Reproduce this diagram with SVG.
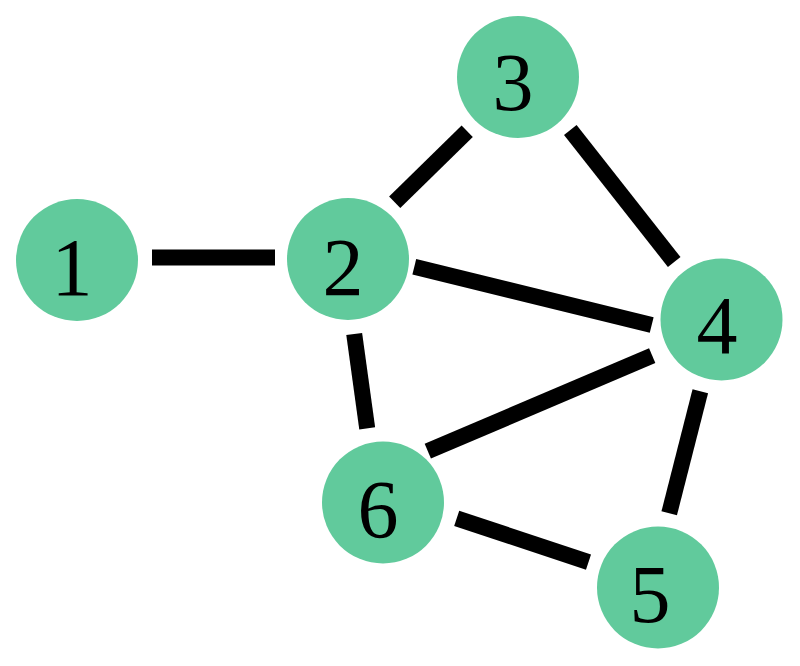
<svg xmlns="http://www.w3.org/2000/svg" width="800" height="666" viewBox="0 0 800 666">
<style>
.node circle { fill: #61CA9C; }
.node text { font-family: "Liberation Serif", "Times New Roman", serif; font-size: 82px; fill: #000; text-anchor: middle; }
.edges line { stroke: #000; stroke-width: 16; stroke-linecap: butt; }
</style>
<rect width="800" height="666" fill="#fff"/>
<g id="edges" class="edges">
<line x1="152" y1="257.5" x2="275" y2="257.5"/>
<line x1="394.7" y1="202.3" x2="467.2" y2="131.3"/>
<line x1="570.3" y1="130" x2="674.2" y2="262"/>
<line x1="414.3" y1="266.7" x2="651.7" y2="325"/>
<line x1="354.2" y1="334" x2="367.2" y2="428.3"/>
<line x1="427.8" y1="451.2" x2="652.2" y2="355.7"/>
<line x1="700.3" y1="391.2" x2="669.2" y2="513.3"/>
<line x1="456.7" y1="518.3" x2="588.5" y2="562.2"/>
</g>
<g id="node1" class="node"><circle cx="77" cy="260" r="61"/><text x="72" y="295">1</text></g>
<g id="node2" class="node"><circle cx="348" cy="259" r="61"/><text x="343" y="295">2</text></g>
<g id="node3" class="node"><circle cx="518" cy="77" r="61"/><text x="513" y="110">3</text></g>
<g id="node4" class="node"><circle cx="721.5" cy="319.5" r="61"/><text x="717" y="353">4</text></g>
<g id="node5" class="node"><circle cx="658" cy="587.5" r="61"/><text x="650" y="621.5">5</text></g>
<g id="node6" class="node"><circle cx="383" cy="502.5" r="61"/><text x="378" y="536.5">6</text></g>
</svg>
